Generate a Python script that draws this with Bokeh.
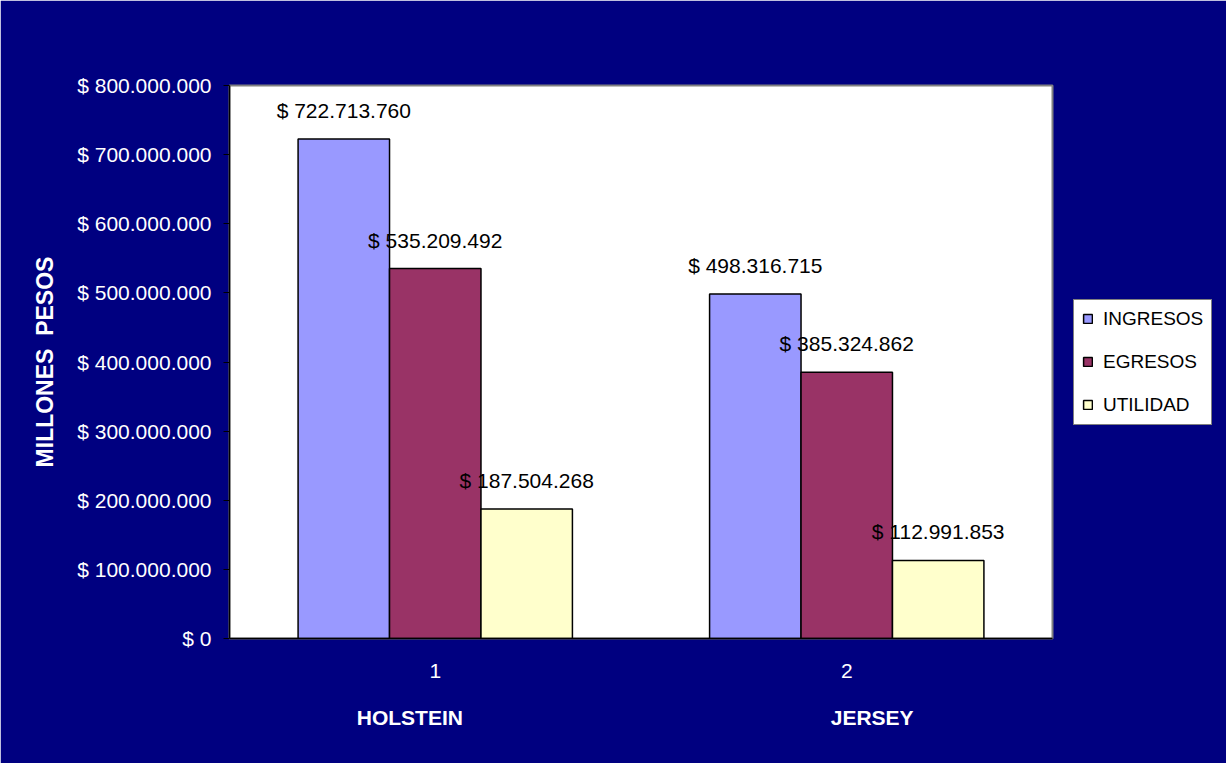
from bokeh.plotting import figure
from bokeh.models import (ColumnDataSource, FactorRange, Range1d, FixedTicker, Legend, LegendItem,
                          LabelSet, CategoricalAxis)
from bokeh.core.properties import value
from bokeh.transform import dodge
from bokeh.embed import file_html
from bokeh.resources import INLINE

# ---- data ----
categories = ["1", "2"]
breeds = ["HOLSTEIN", "JERSEY"]
series = ["INGRESOS", "EGRESOS", "UTILIDAD"]
ingresos = [722713760, 498316715]
egresos = [535209492, 385324862]
utilidad = [187504268, 112991853]
y_ticks = [0, 100000000, 200000000, 300000000, 400000000, 500000000, 600000000, 700000000, 800000000]
colors = ["#9999FF", "#993366", "#FFFFCC"]

FONT = "Liberation Sans"
NAVY = "#000080"


def money(v):
    return "$ " + f"{int(v):,}".replace(",", ".")


p = figure(frame_width=823, frame_height=553, x_range=FactorRange(*categories, range_padding=0),
           y_range=Range1d(0, 800000000), output_backend="svg", toolbar_location=None,
           min_border_left=229, min_border_right=174, min_border_top=85, min_border_bottom=125)
p.background_fill_color = "white"
p.border_fill_color = NAVY
p.outline_line_color = "#808080"
p.outline_line_width = 2
p.grid.grid_line_color = None

values = [ingresos, egresos, utilidad]
bw = 1 / 4.5
offsets = [-bw, 0, bw]
items = []
for name, vals, col, off in zip(series, values, colors, offsets):
    src = ColumnDataSource(dict(cat=categories, v=vals, lab=[money(v) for v in vals]))
    r = p.vbar(x=dodge("cat", off, range=p.x_range), top="v", width=bw, source=src,
               fill_color=col, line_color="black", line_width=1.5)
    items.append(LegendItem(label=name, renderers=[r]))
    ls = LabelSet(x=dodge("cat", off, range=p.x_range), y="v", text="lab", source=src,
                  text_align="center", text_baseline="alphabetic", y_offset=21,
                  text_font=value(FONT), text_font_size=value("21px"), text_color="black")
    p.add_layout(ls)

# y axis
ya = p.yaxis[0]
ya.ticker = FixedTicker(ticks=y_ticks)
ya.major_label_overrides = {t: money(t) for t in y_ticks}
ya.major_label_text_color = "white"
ya.major_label_text_font = FONT
ya.major_label_text_font_size = "21px"
ya.major_tick_in = 0
ya.major_tick_out = 6
ya.major_tick_line_color = "black"
ya.minor_tick_line_color = None
ya.axis_line_color = "black"
ya.axis_line_width = 1.5
ya.major_label_standoff = 12
ya.axis_label = "MILLONES\u00a0\u00a0PESOS"
ya.axis_label_text_color = "white"
ya.axis_label_text_font = FONT
ya.axis_label_text_font_style = "bold"
ya.axis_label_text_font_size = "23px"
ya.axis_label_standoff = 16

# x axis
xa = p.xaxis[0]
xa.major_label_text_color = "white"
xa.major_label_text_font = FONT
xa.major_label_text_font_size = "21px"
xa.major_tick_line_color = None
xa.axis_line_color = "black"
xa.axis_line_width = 1.5
xa.major_label_standoff = 19

# breed names under the categories (spread slightly outward, as in the original)
p.extra_x_ranges = {"breed": FactorRange(*breeds, range_padding=-0.11)}
ba = CategoricalAxis(x_range_name="breed")
ba.major_label_text_color = "white"
ba.major_label_text_font = FONT
ba.major_label_text_font_style = "bold"
ba.major_label_text_font_size = "21px"
ba.major_tick_line_color = None
ba.minor_tick_line_color = None
ba.axis_line_color = None
ba.major_label_standoff = 19
p.add_layout(ba, "below")

legend = Legend(items=items, location="left", margin=21,
                label_text_font=FONT, label_text_font_size="19px", label_text_color="black",
                glyph_width=11, glyph_height=11, label_height=20, spacing=21, padding=8,
                label_standoff=10, background_fill_color="white", background_fill_alpha=1,
                border_line_color="black", border_line_width=1)
p.add_layout(legend, "right")

open("out.html", "w").write(file_html(p, INLINE))
